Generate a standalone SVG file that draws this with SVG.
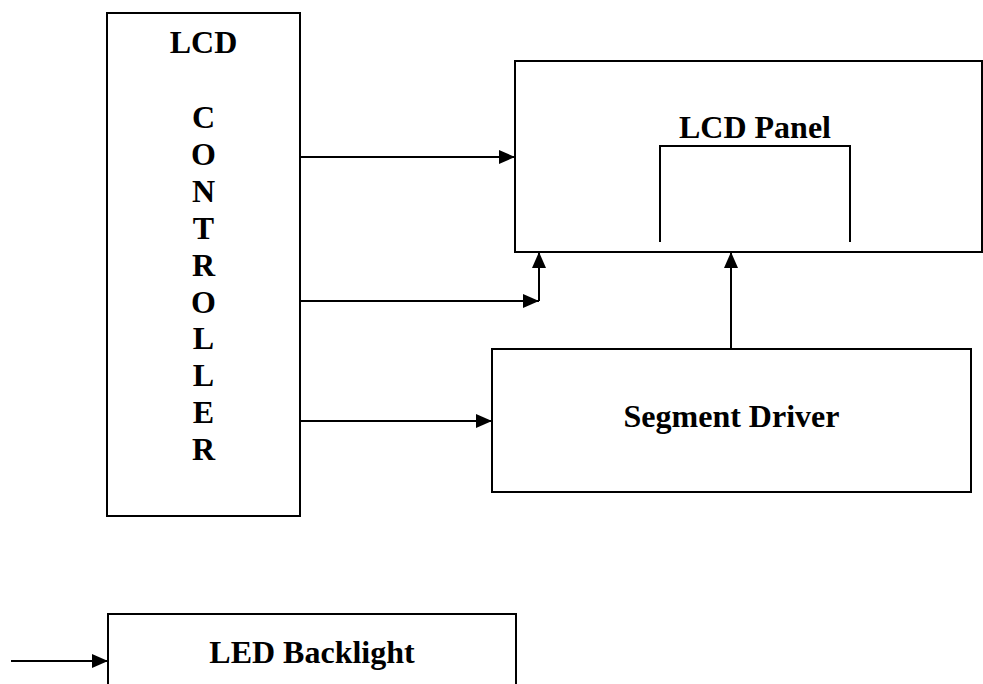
<svg xmlns="http://www.w3.org/2000/svg" width="983" height="684" viewBox="0 0 983 684">
  <style>
    .box { fill: #ffffff; stroke: #000000; stroke-width: 2; }
    .wire { fill: none; stroke: #000000; stroke-width: 2; }
    .label { font-family: "Liberation Serif", "Times New Roman", serif; font-weight: bold; font-size: 32px; fill: #000000; text-anchor: middle; }
  </style>
  <defs>
    <marker id="arrow" markerUnits="userSpaceOnUse" markerWidth="17" markerHeight="15" refX="16" refY="7.5" orient="auto">
      <path d="M0,0.5 L16,7.5 L0,14.5 z" fill="#000000"/>
    </marker>
  </defs>
  <rect width="983" height="684" fill="#ffffff"/>

  <!-- LCD controller: title plus vertically stacked letters -->
  <g id="lcd-controller">
    <rect class="box" x="107" y="13" width="193" height="503"/>
    <text class="label" x="203.5" y="53">LCD</text>
    <text class="label" x="203.5" y="128">C</text>
    <text class="label" x="203.5" y="165">O</text>
    <text class="label" x="203.5" y="202">N</text>
    <text class="label" x="203.5" y="239">T</text>
    <text class="label" x="203.5" y="276">R</text>
    <text class="label" x="203.5" y="313">O</text>
    <text class="label" x="203.5" y="349">L</text>
    <text class="label" x="203.5" y="386">L</text>
    <text class="label" x="203.5" y="423">E</text>
    <text class="label" x="203.5" y="460">R</text>
  </g>

  <!-- LCD panel with inner display bracket -->
  <g id="lcd-panel">
    <rect class="box" x="515" y="61" width="467" height="191"/>
    <text class="label" x="755" y="138">LCD Panel</text>
    <path class="wire" d="M660,242 V146 H850 V242"/>
  </g>

  <!-- Segment driver -->
  <g id="segment-driver">
    <rect class="box" x="492" y="349" width="479" height="143"/>
    <text class="label" x="731.5" y="427">Segment Driver</text>
  </g>

  <!-- LED backlight (continues past the bottom edge) -->
  <g id="led-backlight">
    <path class="box" d="M108,700 V614 H516 V700"/>
    <text class="label" x="312" y="663">LED Backlight</text>
  </g>

  <!-- Connectors -->
  <g id="connectors">
    <line class="wire" x1="300" y1="157" x2="515" y2="157" marker-end="url(#arrow)"/>
    <line class="wire" x1="300" y1="301" x2="539" y2="301" marker-end="url(#arrow)"/>
    <line class="wire" x1="539" y1="301" x2="539" y2="252" marker-end="url(#arrow)"/>
    <line class="wire" x1="300" y1="421" x2="492" y2="421" marker-end="url(#arrow)"/>
    <line class="wire" x1="731" y1="349" x2="731" y2="252" marker-end="url(#arrow)"/>
    <line class="wire" x1="11" y1="661" x2="108" y2="661" marker-end="url(#arrow)"/>
  </g>
</svg>
